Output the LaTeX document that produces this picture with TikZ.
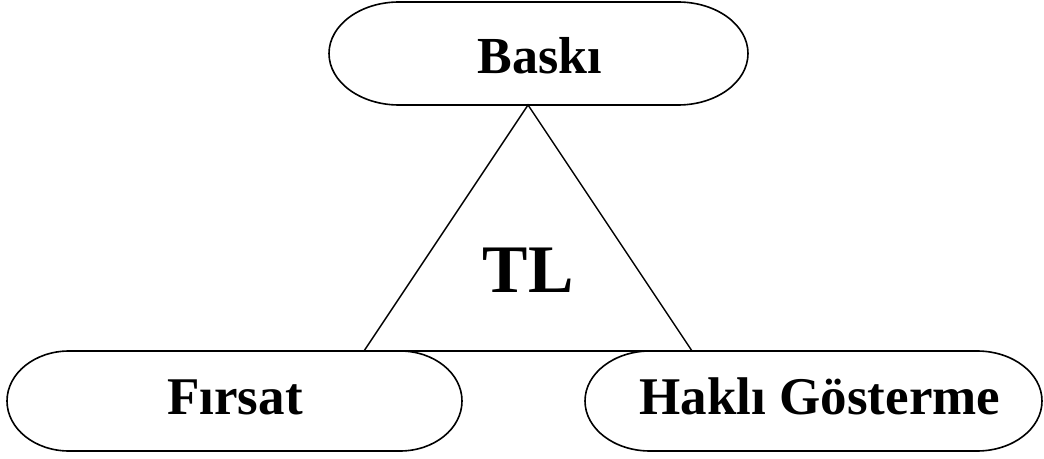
\documentclass[tikz,border=0pt]{standalone}
\usepackage{fontspec}
\setmainfont{Liberation Serif}
\tikzset{
  outline/.style={draw=black, line width=1.6pt},
  lbl/.style={anchor=base, inner sep=0pt, font=\bfseries\fontsize{53}{60}\selectfont},
}
\newcommand{\pillpath}[5]{% x1 x2 ytop ybot rx
  \pgfmathsetmacro{\pry}{(#3-#4)/2}
  \draw[outline] (#1+#5,#3) -- (#2-#5,#3) arc[start angle=90,end angle=-90,x radius=#5,y radius=\pry]
    -- (#1+#5,#4) arc[start angle=270,end angle=90,x radius=#5,y radius=\pry] -- cycle;}
\begin{document}
\begin{tikzpicture}[x=1pt,y=1pt]
\useasboundingbox[fill=white] (0,0) rectangle (1044,458);
\pillpath{329}{748}{456}{353}{70}
\pillpath{7}{462}{107}{7}{62}
\pillpath{585}{1042}{107}{7}{65}
\node[lbl, font=\bfseries\fontsize{52}{60}\selectfont] (baski) at (540,384) {Baskı};
\node[lbl] (firsat) at (235,44) {Fırsat};
\node[lbl] (hakli) at (820,44) {Haklı Gösterme};
\node[lbl, font=\bfseries\fontsize{68}{76}\selectfont] (tl) at (528,165) {TL};
\coordinate (apex) at (528,353);
\coordinate (bl) at (364,107);
\coordinate (br) at (692,107);
\draw[outline, line width=1.4pt] (bl) -- (apex) -- (br);
\draw[outline] (bl) -- (br);
\end{tikzpicture}
\end{document}
